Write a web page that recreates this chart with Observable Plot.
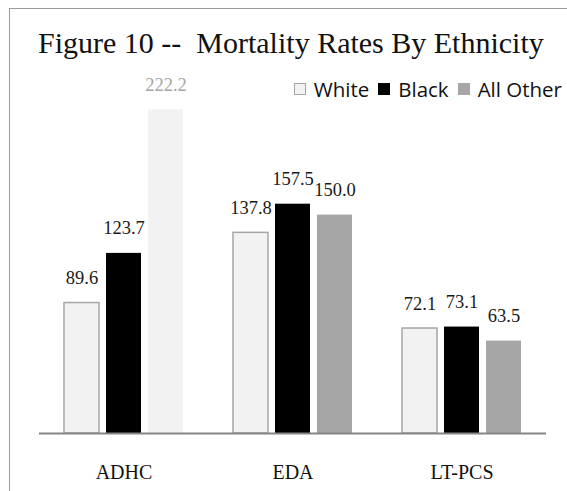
<!DOCTYPE html>
<html>
<head>
<meta charset="utf-8">
<script src="https://cdn.jsdelivr.net/npm/d3@7"></script>
<script src="https://cdn.jsdelivr.net/npm/@observablehq/plot@0.6"></script>
<style>
  html, body { margin: 0; padding: 0; background: #fff; }
  #wrap { position: relative; width: 567px; height: 491px; overflow: hidden; }
  #frame { position: absolute; left: 9px; top: 8px; width: 700px; height: 700px; border: 1.5px solid #9a9a9a; box-sizing: border-box; }
  #title { position: absolute; left: 38px; top: 28px; font-family: "Liberation Serif", serif; font-size: 30px; line-height: 30px; color: #111; white-space: pre; }
  #legend { position: absolute; right: 5px; top: 79px; display: flex; align-items: center; font-family: "Open Sans", sans-serif; font-size: 20.5px; line-height: 20px; color: #111; white-space: pre; }
  .sw { width: 12px; height: 12px; box-sizing: border-box; margin-right: 8px; margin-left: 9px; }
  #chart { position: absolute; left: 0; top: 0; }
</style>
</head>
<body>
<div id="wrap">
  <div id="frame"></div>
  <div id="chart"></div>
  <div id="title"></div>
  <div id="legend"></div>
</div>
<script>
const titleText = "Figure 10 --  Mortality Rates By Ethnicity";
const categories = ["ADHC", "EDA", "LT-PCS"];
const series = ["White", "Black", "All Other"];
const white = [89.6, 137.8, 72.1];
const black = [123.7, 157.5, 73.1];
const allOther = [222.2, 150.0, 63.5];

const seriesValues = [white, black, allOther];
const data = [];
categories.forEach((c, i) => {
  series.forEach((s, j) => data.push({cat: c, series: s, value: seriesValues[j][i]}));
});

const colors = {"White": "#f2f2f2", "Black": "#000000", "All Other": "#a6a6a6"};
const isFaded = d => d.cat === "ADHC" && d.series === "All Other";
const fillOf = d => isFaded(d) ? "#f2f2f2" : colors[d.series];

const chart = Plot.plot({
  width: 567,
  height: 491,
  marginLeft: 38,
  marginRight: 20,
  marginTop: 69,
  marginBottom: 58,
  style: {fontFamily: "Liberation Serif, serif", fontSize: "20px", background: "transparent", color: "#111"},
  fx: {domain: categories, padding: 0, label: null},
  x: {domain: series, paddingInner: 0.176, paddingOuter: 0.58, axis: null},
  y: {domain: [0, 250], axis: null},
  marks: [
    Plot.barY(data, {
      fx: "cat", x: "series", y: "value",
      fill: fillOf,
      stroke: d => d.series === "White" ? "#a6a6a6" : "none",
      strokeWidth: 1.5
    }),
    Plot.ruleY([0], {stroke: "#868686", strokeWidth: 2}),
    Plot.text(data, {
      fx: "cat", x: "series", y: "value",
      text: d => d.value.toFixed(1),
      lineAnchor: "bottom",
      dy: -19,
      fontSize: 18.5,
      fill: d => isFaded(d) ? "#a6a6a6" : "#1a1a1a"
    }),
    Plot.axisFx({tickSize: 0, tickPadding: 31, fontSize: 20, label: null, anchor: "bottom"})
  ]
});
document.getElementById("chart").appendChild(chart);
document.getElementById("title").textContent = titleText;

const legend = document.getElementById("legend");
series.forEach((s, j) => {
  const sw = document.createElement("span");
  sw.className = "sw";
  sw.style.background = colors[s];
  if (s === "White") sw.style.border = "1px solid #a6a6a6";
  if (j === 0) sw.style.marginLeft = "0px";
  legend.appendChild(sw);
  const t = document.createElement("span");
  t.textContent = s;
  legend.appendChild(t);
});
</script>
</body>
</html>
